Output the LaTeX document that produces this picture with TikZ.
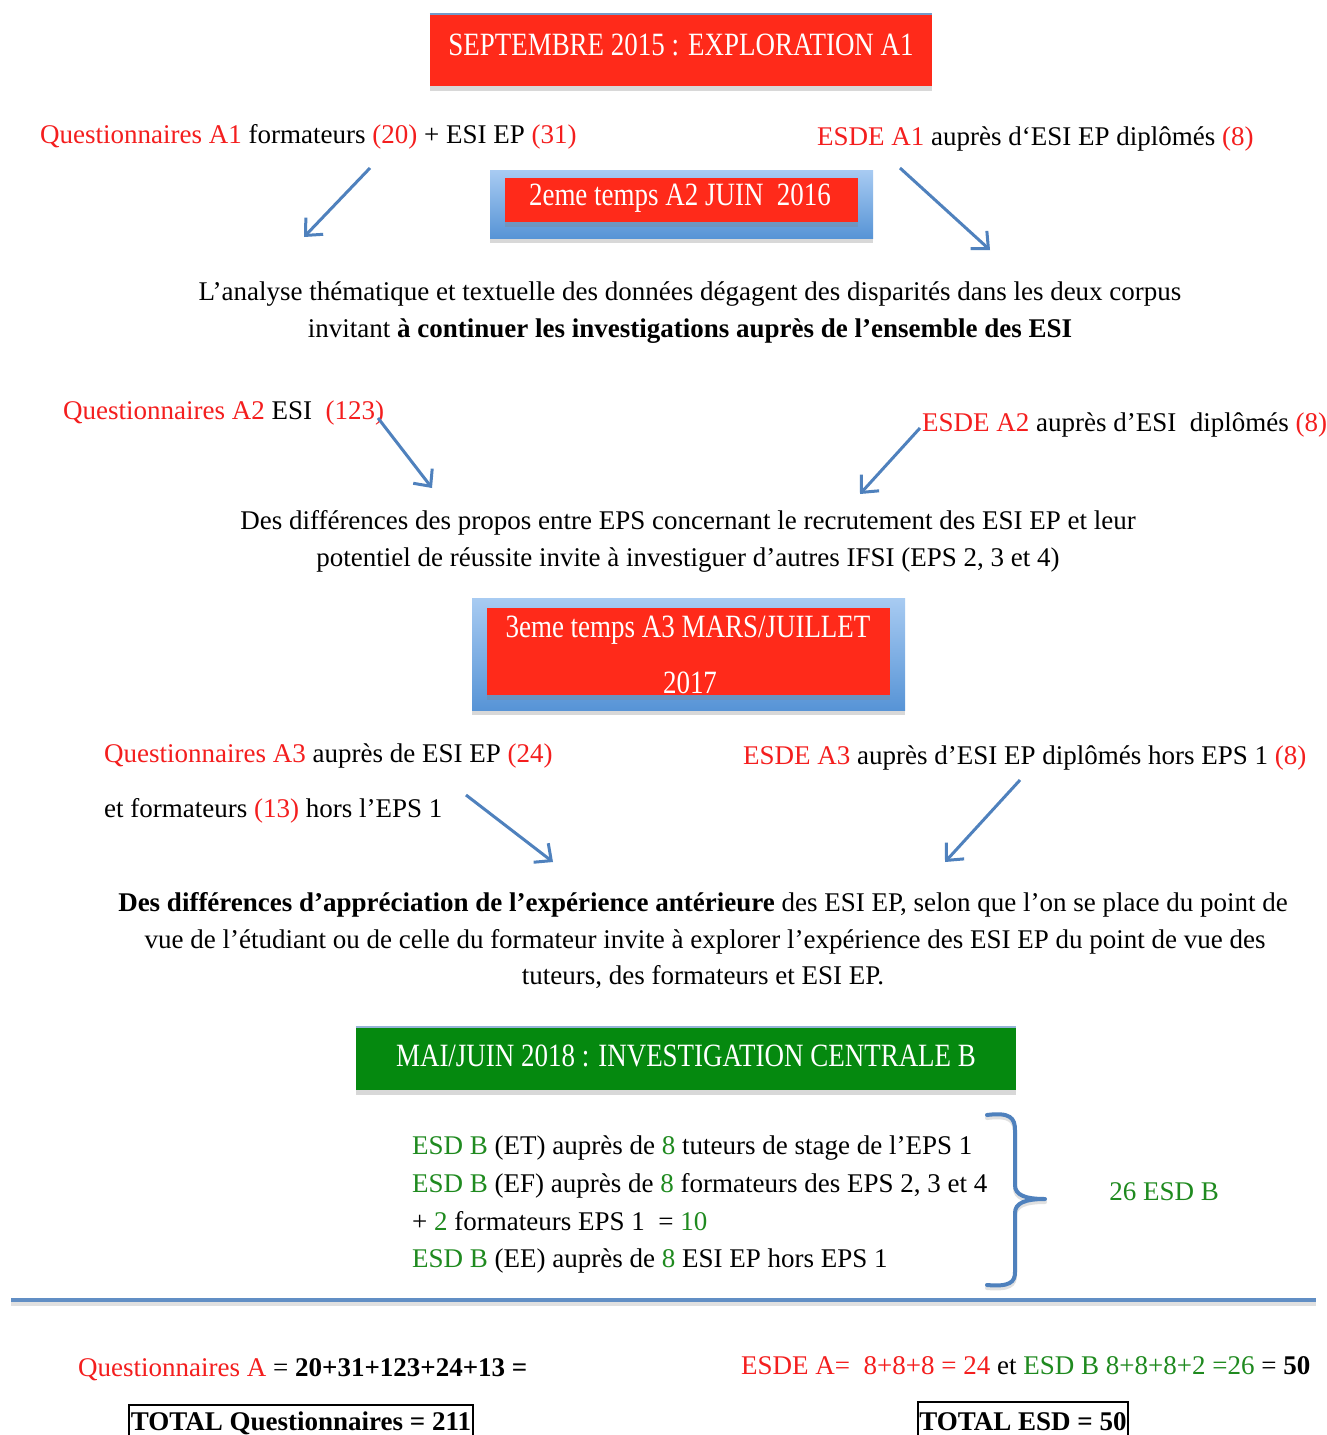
\documentclass[tikz,border=0pt]{standalone}
\usepackage{fontspec}
\setmainfont{Liberation Serif}
\newfontfamily\boxfont[FakeStretch=0.83]{Liberation Serif}
\usetikzlibrary{arrows.meta,shadows,calc}
\definecolor{rd}{HTML}{FF2A1A}
\definecolor{txtred}{HTML}{F41E1E}
\definecolor{gr}{HTML}{05890F}
\definecolor{txtgr}{HTML}{1F8A1F}
\definecolor{ab}{HTML}{4F81BD}
\definecolor{lb}{HTML}{A8CBF2}
\definecolor{db}{HTML}{5794D6}
\newcommand{\Rd}[1]{\textcolor{txtred}{#1}}
\newcommand{\Gr}[1]{\textcolor{txtgr}{#1}}
\begin{document}
\begin{tikzpicture}[x=1pt,y=-1pt,
  txt/.style={inner sep=0pt, font=\fontsize{27}{31}\selectfont},
  boxtxt/.style={inner sep=0pt, text=white, font=\boxfont\fontsize{32.5}{34}\selectfont},
  shad/.style={drop shadow={shadow xshift=0pt, shadow yshift=-5pt, opacity=.3, fill=gray}},
  redbox/.style={fill=rd, inner sep=0pt, shad},
  bluebox/.style={top color=lb, bottom color=db, inner sep=0pt, shad},
  greenbox/.style={fill=gr, inner sep=0pt, shad},
  arr/.style={draw=ab, line width=3pt, -{Straight Barb[length=13pt,width=24pt]}},
  totbox/.style={draw, line width=1.5pt, inner sep=0pt}
]
\useasboundingbox (0,0) rectangle (1327,1435);
\fill[white] (0,0) rectangle (1327,1435);

% Box 1
\node[redbox, minimum width=502pt, minimum height=72pt] (b1) at (681,50) {};
\draw[ab!80, line width=2pt] (b1.north west) -- (b1.north east);
\node[boxtxt] (b1t) at (681,45) {SEPTEMBRE 2015 : EXPLORATION A1};

% line A1
\node[txt, anchor=base west] (qa1) at (40,143) {\Rd{Questionnaires A1} formateurs \Rd{(20)} + ESI EP \Rd{(31)}};
\node[txt, anchor=base west] (ea1) at (817,145) {\Rd{ESDE A1} auprès d‘ESI EP diplômés \Rd{(8)}};

% Box 2
\node[bluebox, minimum width=383pt, minimum height=68pt] (b2) at (681.5,204) {};
\node[redbox, minimum width=353pt, minimum height=44pt] (b2r) at (681.5,200) {};
\node[boxtxt] (b2t) at (680,198) {2eme temps A2 JUIN\ \ 2016};

\coordinate (a1s) at (370,168); \coordinate (a1e) at (304,237);
\coordinate (a2s) at (900,168); \coordinate (a2e) at (990,250);
\draw[arr] (a1s) -- (a1e);
\draw[arr] (a2s) -- (a2e);

% Paragraph 1
\node[txt, anchor=base] (p1a) at (690,300) {L’analyse thématique et textuelle des données dégagent des disparités dans les deux corpus};
\node[txt, anchor=base] (p1b) at (690,337) {invitant \textbf{à continuer les investigations auprès de l’ensemble des ESI}};

% line A2
\node[txt, anchor=base west] (qa2) at (63,419) {\Rd{Questionnaires A2} ESI\ \ \Rd{(123)}};
\node[txt, anchor=base west] (ea2) at (922,431) {\Rd{ESDE A2} auprès d’ESI\ \ diplômés \Rd{(8)}};
\coordinate (a3s) at (378,418); \coordinate (a3e) at (432,488);
\coordinate (a4s) at (920,428); \coordinate (a4e) at (860,494);
\draw[arr] (a3s) -- (a3e);
\draw[arr] (a4s) -- (a4e);

% Paragraph 2
\node[txt, anchor=base] (p2a) at (688,529) {Des différences des propos entre EPS concernant le recrutement des ESI EP et leur};
\node[txt, anchor=base] (p2b) at (688,566) {potentiel de réussite invite à investiguer d’autres IFSI (EPS 2, 3 et 4)};

% Box 3
\node[bluebox, minimum width=433pt, minimum height=112pt] (b3) at (688.5,654) {};
\node[redbox, minimum width=403pt, minimum height=87pt] (b3r) at (688.5,651.5) {};
\node[boxtxt] (b3t1) at (688,630) {3eme temps A3 MARS/JUILLET};
\node[boxtxt] (b3t2) at (690,683) {2017};

% line A3
\node[txt, anchor=base west] (qa3) at (104,762) {\Rd{Questionnaires A3} auprès de ESI EP \Rd{(24)}};
\node[txt, anchor=base west] (qa3b) at (104,817) {et formateurs \Rd{(13)} hors l’EPS 1};
\node[txt, anchor=base west] (ea3) at (743,764) {\Rd{ESDE A3} auprès d’ESI EP diplômés hors EPS 1 \Rd{(8)}};
\coordinate (a5s) at (466,795); \coordinate (a5e) at (553,862);
\coordinate (a6s) at (1020,780); \coordinate (a6e) at (945,862);
\draw[arr] (a5s) -- (a5e);
\draw[arr] (a6s) -- (a6e);

% Paragraph 3
\node[txt, anchor=base] (p3a) at (703,911) {\textbf{Des différences d’appréciation de l’expérience antérieure} des ESI EP, selon que l’on se place du point de};
\node[txt, anchor=base] (p3b) at (705,948) {vue de l’étudiant ou de celle du formateur invite à explorer l’expérience des ESI EP du point de vue des};
\node[txt, anchor=base] (p3c) at (703,984) {tuteurs, des formateurs et ESI EP.};

% Green box
\node[greenbox, minimum width=660pt, minimum height=63pt] (b4) at (686,1058.5) {};
\draw[ab!60, line width=2pt] (b4.north west) -- (b4.north east);
\node[boxtxt] (b4t) at (686,1056) {MAI/JUIN 2018 : INVESTIGATION CENTRALE B};

% List
\node[txt, anchor=base west] (l1) at (412,1154) {\Gr{ESD B} (ET) auprès de \Gr{8} tuteurs de stage de l’EPS 1};
\node[txt, anchor=base west] (l2) at (412,1192) {\Gr{ESD B} (EF) auprès de \Gr{8} formateurs des EPS 2, 3 et 4};
\node[txt, anchor=base west] (l3) at (412,1230) {+ \Gr{2} formateurs EPS 1\ \ = \Gr{10}};
\node[txt, anchor=base west] (l4) at (412,1267) {\Gr{ESD B} (EE) auprès de \Gr{8} ESI EP hors EPS 1};

% Brace
\draw[gray!40, line width=4pt, line cap=round, opacity=.6, yshift=-3pt]
  (987,1115) .. controls (1010,1112) and (1015,1118) .. (1015,1130) -- (1015,1185)
  .. controls (1015,1195) and (1025,1199) .. (1045,1199)
  (1045,1199) .. controls (1025,1199) and (1015,1203) .. (1015,1213) -- (1015,1272)
  .. controls (1015,1282) and (1010,1287) .. (987,1285);
\draw[ab, line width=4pt, line cap=round]
  (987,1115) .. controls (1010,1112) and (1015,1118) .. (1015,1130) -- (1015,1185)
  .. controls (1015,1195) and (1025,1199) .. (1045,1199)
  (1045,1199) .. controls (1025,1199) and (1015,1203) .. (1015,1213) -- (1015,1272)
  .. controls (1015,1282) and (1010,1287) .. (987,1285);
\node[txt, anchor=base] (esd) at (1164,1200) {\Gr{26 ESD B}};

% separator line
\coordinate (hl) at (11,1300); \coordinate (hr) at (1316,1300);
\draw[gray!40, line width=4pt, opacity=.6] ($(hl)+(0,4)$) -- ($(hr)+(0,4)$);
\draw[ab!90, line width=4pt] (hl) -- (hr);

% Totals
\node[txt, anchor=base west] (tqa) at (78,1376) {\Rd{Questionnaires A} = \textbf{20+31+123+24+13 =}};
\node[txt, anchor=base west] (tesd) at (741,1374) {\Rd{ESDE A=\ \ 8+8+8 = 24} et \Gr{ESD B 8+8+8+2 =26} = \textbf{50}};
\draw[line width=1.5pt] (129,1445) -- (129,1405) -- (473,1405) -- (473,1445);
\node[txt, anchor=base, font=\fontsize{27}{31}\selectfont\bfseries] (tq) at (301,1430) {TOTAL Questionnaires = 211};
\draw[line width=1.5pt] (918,1445) -- (918,1402) -- (1128,1402) -- (1128,1445);
\node[txt, anchor=base, font=\fontsize{27}{31}\selectfont\bfseries] (te) at (1023,1430) {TOTAL ESD = 50};
\end{tikzpicture}
\end{document}
